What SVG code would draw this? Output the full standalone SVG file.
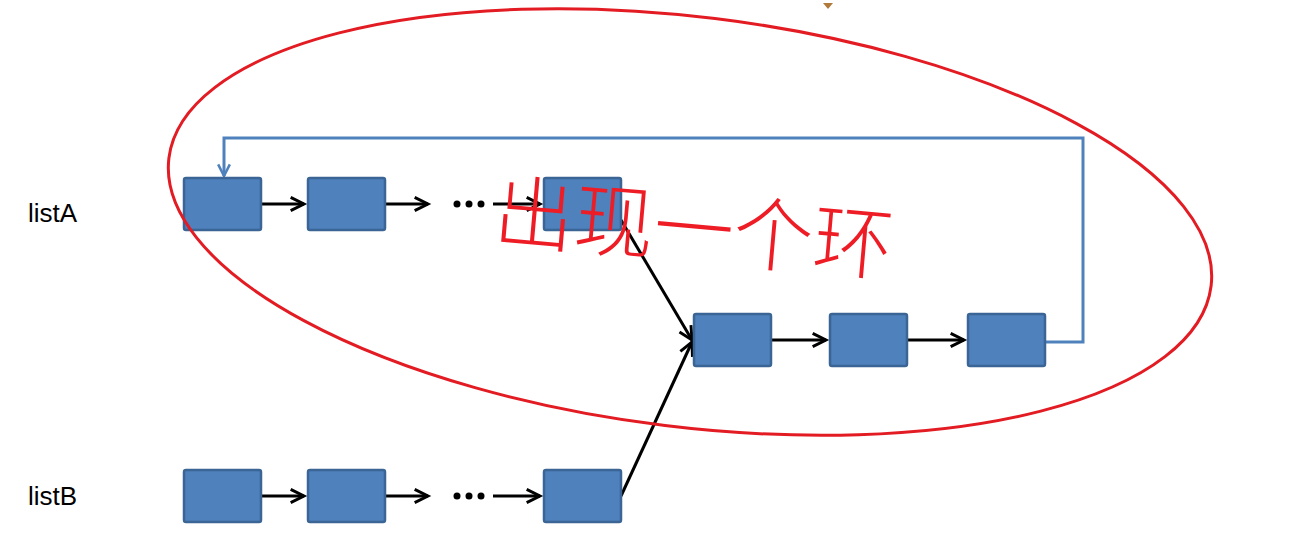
<svg xmlns="http://www.w3.org/2000/svg" width="1312" height="538" viewBox="0 0 1312 538">
<style>
.n{fill:#4f81bd;stroke:#3a6594;stroke-width:2.5}
.c{stroke:#000;stroke-width:3;fill:none;marker-end:url(#a)}
.lbl{font-family:"Liberation Sans",Arial,sans-serif;font-size:26px;fill:#000}
.d{fill:#000}
</style>
<defs>
<marker id="a" viewBox="0 0 12 12" refX="11" refY="6" markerWidth="16" markerHeight="16" orient="auto" markerUnits="userSpaceOnUse" overflow="visible"><path d="M1,1 L11,6 L1,11" fill="none" stroke="#000" stroke-width="2.2"/></marker>
<marker id="b" viewBox="0 0 12 12" refX="11" refY="6" markerWidth="14" markerHeight="14" orient="auto" markerUnits="userSpaceOnUse" overflow="visible"><path d="M1,1 L11,6 L1,11" fill="none" stroke="#4f81bd" stroke-width="2.2"/></marker>
</defs>
<rect width="1312" height="538" fill="#fff"/>
<path d="M823,3 L833,3 L828,9 Z" fill="#b07a3a"/>
<text class="lbl" x="28" y="222">listA</text>
<text class="lbl" x="28" y="505">listB</text>
<g id="connectors">
<path class="c" d="M261,204 H304"/>
<path class="c" d="M385,204 H428"/>
<path class="c" d="M493,204 H540"/>
<path class="c" d="M621,220 L692,340"/>
<path class="c" d="M771,340 H826"/>
<path class="c" d="M907,340 H964"/>
<path class="c" d="M261,496 H304"/>
<path class="c" d="M385,496 H428"/>
<path class="c" d="M493,496 H540"/>
<path class="c" d="M621,496 L692,342"/>
<path d="M1045,342 H1083 V138 H224 V176" fill="none" stroke="#4f81bd" stroke-width="3" marker-end="url(#b)"/>
<circle class="d" cx="457" cy="204" r="3.5"/><circle class="d" cx="469" cy="204" r="3.5"/><circle class="d" cx="481" cy="204" r="3.5"/>
<circle class="d" cx="457" cy="496" r="3.5"/><circle class="d" cx="469" cy="496" r="3.5"/><circle class="d" cx="481" cy="496" r="3.5"/>
</g>
<g id="a1"><rect class="n" x="184" y="178" width="77" height="52" rx="2"/></g>
<g id="a2"><rect class="n" x="308" y="178" width="77" height="52" rx="2"/></g>
<g id="a3"><rect class="n" x="544" y="178" width="77" height="52" rx="2"/></g>
<g id="m1"><rect class="n" x="694" y="314" width="77" height="52" rx="2"/></g>
<g id="m2"><rect class="n" x="830" y="314" width="77" height="52" rx="2"/></g>
<g id="m3"><rect class="n" x="968" y="314" width="77" height="52" rx="2"/></g>
<g id="b1"><rect class="n" x="184" y="470" width="77" height="52" rx="2"/></g>
<g id="b2"><rect class="n" x="308" y="470" width="77" height="52" rx="2"/></g>
<g id="b3"><rect class="n" x="544" y="470" width="77" height="52" rx="2"/></g>
<ellipse cx="690" cy="222" rx="525" ry="205" transform="rotate(7 690 222)" fill="none" stroke="#e31b23" stroke-width="3"/>
<text x="492" y="240" font-family="Noto Sans CJK SC,sans-serif" font-size="80" font-weight="300" fill="#ee1c25" transform="rotate(5 492 240)">出现一个环</text>
</svg>
